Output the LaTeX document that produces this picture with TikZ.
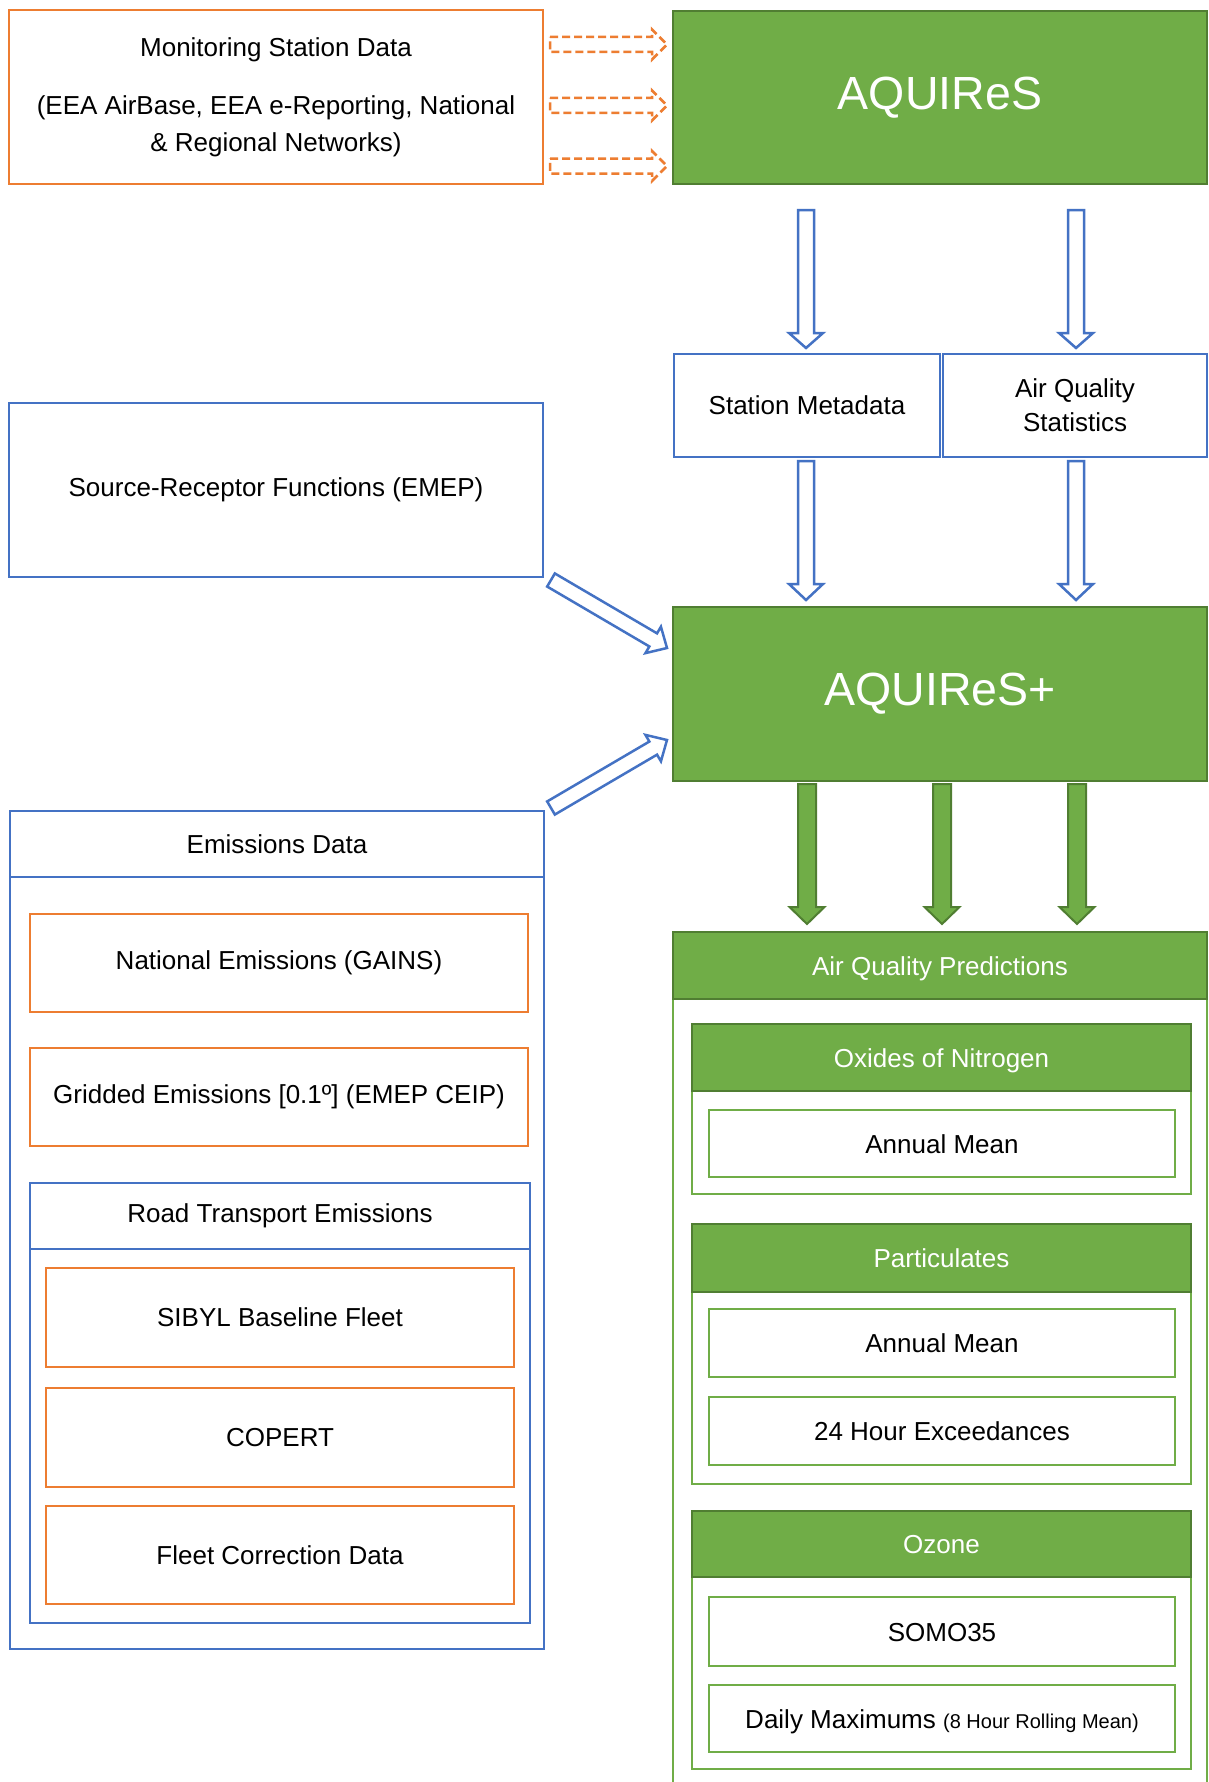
\documentclass[tikz,border=0pt]{standalone}
\usepackage{fontspec}
\setmainfont{Liberation Sans}
\usetikzlibrary{calc}

\definecolor{orng}{HTML}{ED7D31}
\definecolor{blu}{HTML}{4472C4}
\definecolor{grn}{HTML}{70AD47}
\definecolor{grndark}{HTML}{507E32}

\newcommand\bodyfont{\fontsize{26}{34}\selectfont}
\newcommand\titlefont{\fontsize{46.5}{52}\selectfont}
\newcommand\notefont{\fontsize{20}{24}\selectfont}

% Block arrow from #2 to #3: half shaft width #4, half head width #5, head length #6
\newcommand\blockarrow[6]{%
  \draw[#1] let \p1=(#2), \p2=(#3),
      \n1={atan2(\y2-\y1,\x2-\x1)},
      \n2={veclen(\x2-\x1,\y2-\y1)} in
    [shift={(\p1)}, rotate=\n1]
    (0pt,#4pt) -- ({(\n2-#6)*1pt},#4pt) -- ({(\n2-#6)*1pt},#5pt) -- ({\n2*1pt},0pt)
    -- ({(\n2-#6)*1pt},-#5pt) -- ({(\n2-#6)*1pt},-#4pt) -- (0pt,-#4pt) -- cycle;}

\tikzset{
  box/.style={draw, rectangle, inner sep=0pt, outer sep=0pt, line width=2.5pt,
              align=center, font=\bodyfont, text=black},
  obox/.style={box, draw=orng},
  bbox/.style={box, draw=blu},
  gline/.style={box, draw=grn, text height=19pt, text depth=0pt},
  gfill/.style={box, fill=grn, draw=grndark, text=white},
  ghead/.style={gfill, text height=19pt, text depth=0pt},
  hollowarrow/.style={draw=blu, fill=white, line width=2.5pt, line join=miter},
  solidarrow/.style={draw=grndark, fill=grn, line width=2pt, line join=miter},
  dasharrow/.style={draw=orng, line width=2.5pt, dash pattern=on 8pt off 4pt, line join=miter},
}

\begin{document}
\begin{tikzpicture}[x=1pt,y=-1pt]
\fill[white] (0,0) rectangle (1208,1782);
\clip (0,0) rectangle (1208,1782);

% ---- top row
\node[obox, minimum width=534, minimum height=174, font=\fontsize{26}{37}\selectfont] (mon) at (276,97)
  {Monitoring Station Data\\[21pt](EEA AirBase, EEA e-Reporting, National\\\& Regional Networks)};
\node[gfill, minimum width=534, minimum height=173, font=\titlefont] (aq) at (940,97.5) {AQUIReS};

% ---- station outputs
\node[bbox, minimum width=266, minimum height=103] (meta) at (807,405.5) {Station Metadata};
\node[bbox, minimum width=264, minimum height=103] (stats) at (1075,405.5) {Air Quality\\Statistics};

% ---- source-receptor functions
\node[bbox, minimum width=534, minimum height=174] (src) at (276,490) {Source-Receptor Functions (EMEP)};

% ---- AQUIReS+
\node[gfill, minimum width=534, minimum height=174, font=\titlefont] (aqp) at (940,694) {AQUIReS+};

% ---- emissions data group
\node[bbox, minimum width=534, minimum height=838] (emis) at (277,1230) {};
\node[bbox, minimum width=534, minimum height=66] (emishead) at (277,844) {Emissions Data};
\node[obox, minimum width=498, minimum height=98] (nat) at (279,963) {National Emissions (GAINS)};
\node[obox, minimum width=498, minimum height=98] (grid) at (279,1097) {Gridded Emissions [0.1º] (EMEP CEIP)};
\node[bbox, minimum width=500, minimum height=440] (road) at (280,1403) {};
\node[bbox, minimum width=500, minimum height=66] (roadhead) at (280,1216) {Road Transport Emissions};
\node[obox, minimum width=468, minimum height=99] (sibyl) at (280,1317.5) {SIBYL Baseline Fleet};
\node[obox, minimum width=468, minimum height=99] (copert) at (280,1437.5) {COPERT};
\node[obox, minimum width=468, minimum height=98] (fleet) at (280,1555) {Fleet Correction Data};

% ---- air quality predictions group
\node[gline, minimum width=534, minimum height=868] (pred) at (940,1366) {};
\node[ghead, minimum width=534, minimum height=67] (predhead) at (940,965.5) {Air Quality Predictions};

\node[gline, minimum width=499, minimum height=170] (nox) at (941.5,1109) {};
\node[ghead, minimum width=499, minimum height=67] (noxhead) at (941.5,1057.5) {Oxides of Nitrogen};
\node[gline, minimum width=466, minimum height=67] (noxmean) at (942,1143.5) {Annual Mean};

\node[gline, minimum width=499, minimum height=260] (part) at (941.5,1354) {};
\node[ghead, minimum width=499, minimum height=68] (parthead) at (941.5,1258) {Particulates};
\node[gline, minimum width=466, minimum height=68] (partmean) at (942,1343) {Annual Mean};
\node[gline, minimum width=466, minimum height=68] (partexc) at (942,1431) {24 Hour Exceedances};

\node[gline, minimum width=499, minimum height=258] (ozone) at (941.5,1640) {};
\node[ghead, minimum width=499, minimum height=66] (ozonehead) at (941.5,1544) {Ozone};
\node[gline, minimum width=466, minimum height=69] (somo) at (942,1631.5) {SOMO35};
\node[gline, minimum width=466, minimum height=67] (dmax) at (942,1718.5) {Daily Maximums {\notefont (8 Hour Rolling Mean)}};

% ---- connector end points
\coordinate (d1a) at ($(mon.north east)+(7,34.5)$);
\coordinate (d1b) at ($(aq.north west)+(-6,33.5)$);
\coordinate (d2a) at ($(mon.north east)+(7,95.5)$);
\coordinate (d2b) at ($(aq.north west)+(-6,94.5)$);
\coordinate (d3a) at ($(mon.north east)+(7,156)$);
\coordinate (d3b) at ($(aq.north west)+(-6,155)$);

\coordinate (b1a) at ($(aq.south)+(-134,26)$);
\coordinate (b1b) at ($(meta.north)+(-1,-6)$);
\coordinate (b2a) at ($(aq.south)+(136,26)$);
\coordinate (b2b) at ($(stats.north)+(1,-6)$);
\coordinate (b3a) at ($(meta.south)+(-1,4)$);
\coordinate (b3b) at ($(aqp.north)+(-134,-7)$);
\coordinate (b4a) at ($(stats.south)+(1,4)$);
\coordinate (b4b) at ($(aqp.north)+(136,-7)$);

\coordinate (s1a) at ($(src.south east)+(8,3)$);
\coordinate (s1b) at ($(aqp.north west)+(-6,41)$);
\coordinate (e1a) at ($(emis.north east)+(7,-3)$);
\coordinate (e1b) at ($(aqp.south west)+(-6,-41)$);

\coordinate (g1a) at ($(aqp.south)+(-133,3)$);
\coordinate (g1b) at ($(predhead.north)+(-133,-8)$);
\coordinate (g2a) at ($(aqp.south)+(2,3)$);
\coordinate (g2b) at ($(predhead.north)+(2,-8)$);
\coordinate (g3a) at ($(aqp.south)+(137,3)$);
\coordinate (g3b) at ($(predhead.north)+(137,-8)$);

% ---- connectors
\blockarrow{dasharrow}{d1a}{d1b}{7.5}{15}{15}
\blockarrow{dasharrow}{d2a}{d2b}{7.5}{15}{15}
\blockarrow{dasharrow}{d3a}{d3b}{7.5}{15}{15}

\blockarrow{hollowarrow}{b1a}{b1b}{8}{17}{15}
\blockarrow{hollowarrow}{b2a}{b2b}{8}{17}{15}
\blockarrow{hollowarrow}{b3a}{b3b}{8}{17}{16}
\blockarrow{hollowarrow}{b4a}{b4b}{8}{17}{16}

\blockarrow{hollowarrow}{s1a}{s1b}{7.6}{15.3}{16}
\blockarrow{hollowarrow}{e1a}{e1b}{7.6}{15.3}{16}

\blockarrow{solidarrow}{g1a}{g1b}{9}{17.5}{17}
\blockarrow{solidarrow}{g2a}{g2b}{9}{17.5}{17}
\blockarrow{solidarrow}{g3a}{g3b}{9}{17.5}{17}
\end{tikzpicture}
\end{document}
